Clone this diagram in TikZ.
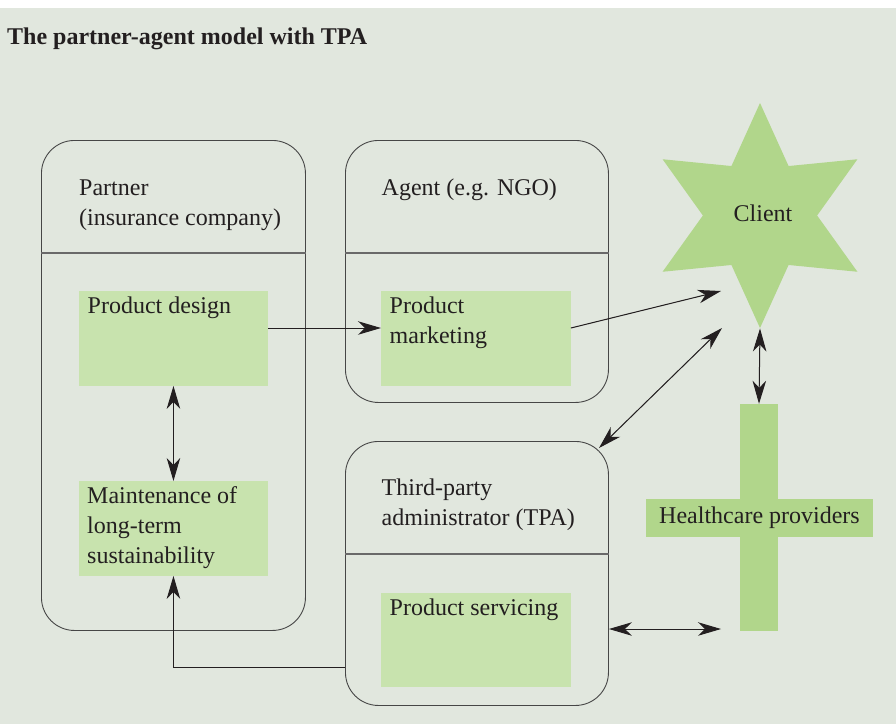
\documentclass[tikz,border=0pt]{standalone}
\usepackage{fontspec}
\setmainfont{Liberation Serif}
\usetikzlibrary{arrows.meta,shapes.geometric,calc}
\definecolor{bgc}{RGB}{225,231,222}
\definecolor{boxg}{RGB}{200,227,174}
\definecolor{starg}{RGB}{177,214,139}
\definecolor{linec}{RGB}{70,70,70}
\definecolor{divc}{RGB}{105,105,105}
\definecolor{txt}{RGB}{35,31,32}
\tikzset{
  frame/.style={draw=linec, line width=0.9pt, rounded corners=33pt, anchor=north west, inner sep=0pt},
  divline/.style={draw=divc, line width=1.3pt},
  gbox/.style={fill=boxg, anchor=north west, inner sep=0pt, minimum width=189.5pt, minimum height=94.5pt},
  lbl/.style={anchor=base west, inner sep=0pt, align=left, text=txt, font=\fontsize{24}{30}\selectfont},
  conn/.style={draw=txt, fill=txt, line width=1pt, >={Stealth[length=23pt,width=13.5pt,inset=7pt]}},
}
\begin{document}
\begin{tikzpicture}[x=1pt,y=-1pt]
\useasboundingbox (0,0) rectangle (896,724);
\fill[bgc] (0,7.5) rectangle (896,724);
\node[lbl, font=\fontsize{24}{30}\selectfont\bfseries] (title) at (7,44.3) {The partner-agent model with TPA};
% frames
\node[frame, minimum width=264pt, minimum height=490pt] (partner) at (41,140) {};
\node[frame, minimum width=263pt, minimum height=262pt] (agent) at (345,140) {};
\node[frame, minimum width=263pt, minimum height=264pt] (tpa) at (345,441) {};
\draw[divline] (partner.west |- 0,253) -- (partner.east |- 0,253);
\draw[divline] (agent.west |- 0,253) -- (agent.east |- 0,253);
\draw[divline] (tpa.west |- 0,554) -- (tpa.east |- 0,554);
% headers (base anchor = baseline of the last line)
\node[lbl] (partnerlbl) at (79,225) {Partner\\(insurance company)};
\node[lbl] (agentlbl) at (381.5,195) {Agent (e.g. NGO)};
\node[lbl] (tpalbl) at (381.5,525) {Third-party\\administrator (TPA)};
% green boxes
\node[gbox] (pdesign) at (78.5,291) {};
\node[gbox] (pmarket) at (381,291) {};
\node[gbox] (maint) at (78.5,481) {};
\node[gbox] (pserv) at (381,592.5) {};
\node[lbl] (pdesignlbl) at ($(pdesign.north west)+(9,22.3)$) {Product design};
\node[lbl] (pmarketlbl) at ($(pmarket.north west)+(8.5,52.3)$) {Product\\marketing};
\node[lbl] (maintlbl) at ($(maint.north west)+(8.5,82.3)$) {Maintenance of\\long-term\\sustainability};
\node[lbl] (pservlbl) at ($(pserv.north west)+(8.5,22.5)$) {Product servicing};
% client star
\node[star, star points=6, star point ratio=1.97, minimum size=225pt, inner sep=0pt, fill=starg] (client) at (760,215.5) {};
\node[lbl, anchor=base] (clientlbl) at (763,221) {Client};
% healthcare cross
\node[fill=starg, inner sep=0pt, minimum width=38pt, minimum height=227pt] (hbar) at (759,517.5) {};
\node[fill=starg, inner sep=0pt, minimum width=227pt, minimum height=38pt, text=txt, font=\fontsize{24}{30}\selectfont] (health) at (759.5,518) {Healthcare providers};
% free ends
\coordinate (c1) at (721,291);
\coordinate (c2) at (722,328);
\coordinate (t1) at (599,448);
\coordinate (h1) at (721,629);
% connectors
\draw[conn, ->] ($(pdesign.north east)+(0,37)$) -- ($(pmarket.north west)+(0,37)$);
\draw[conn, ->] ($(pmarket.north east)+(0,37)$) -- (c1);
\draw[conn, <->] (t1) -- (c2);
\draw[conn, <->] (client.south) -- (hbar.north);
\draw[conn, <->] (tpa.east |- 0,629) -- (h1);
\draw[conn, <->] (pdesign.south) -- (maint.north);
\draw[conn, ->, fill=none] (tpa.west |- 0,667) -| (maint.south);
\end{tikzpicture}
\end{document}
